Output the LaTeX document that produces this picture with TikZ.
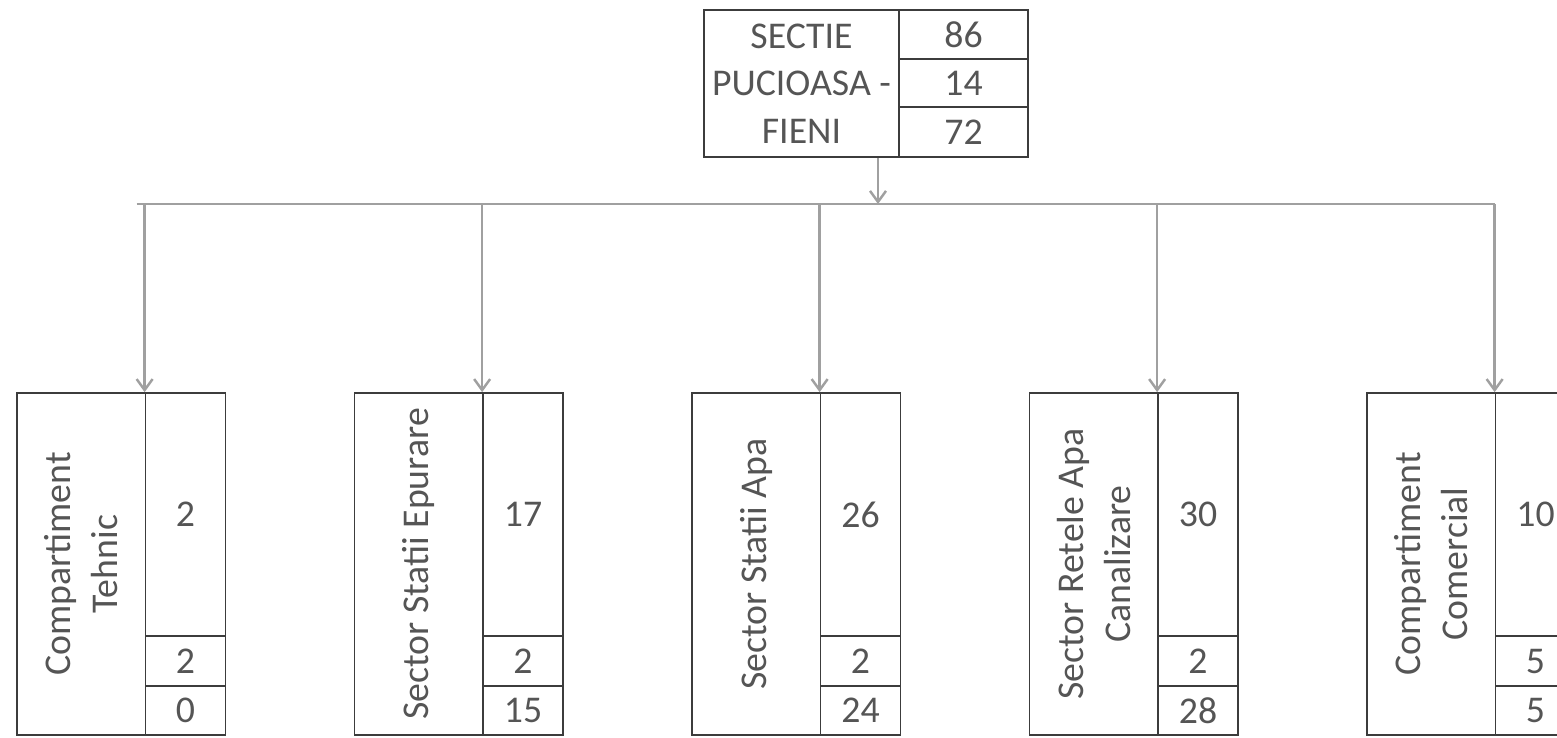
\documentclass[tikz,border=0pt]{standalone}
\usepackage{fontspec}
\setmainfont{Carlito}
\usetikzlibrary{arrows.meta,calc}
\definecolor{SecText}{RGB}{85,85,85}
\definecolor{SecLine}{RGB}{60,60,60}
\definecolor{SecArrow}{RGB}{160,160,160}

\begin{document}
\begin{tikzpicture}[x=0.02cm,y=-0.02cm,>={Straight Barb[length=2.2mm,width=3.2mm]}]
        \tikzset{cell/.style={draw=SecLine,line width=1pt,inner sep=0pt,text=SecText,align=center,font=\fontsize{21.5}{27}\selectfont},namebox/.style={cell,rotate=90,minimum width=6.84cm,minimum height=2.57cm},numcell/.style={cell,minimum width=1.6cm},link/.style={draw=SecArrow,line width=1.4pt}}
        \useasboundingbox (0,0) rectangle (1557,737);
        % sectia
        \node[cell,minimum width=3.9cm,minimum height=2.94cm] (sectie) at (801.5,83.5) {SECTIE\\PUCIOASA -\\FIENI};
        \node[cell,minimum width=2.58cm,minimum height=0.98cm] (n86) at (963.5,34.5) {86};
        \node[cell,minimum width=2.58cm,minimum height=0.96cm] (n14) at (963.5,83) {14};
        \node[cell,minimum width=2.58cm,minimum height=1.0cm] (n72) at (963.5,132) {72};
        % compartimente si sectoare
        \foreach \i/\txt/\tot/\a/\b in {0/{Compartiment\\Tehnic}/2/2/0,1/{Sector Statii Epurare}/17/2/15,2/{Sector Statii Apa}/26/2/24,3/{Sector Retele Apa\\Canalizare}/30/2/28,4/{Compartiment\\Comercial}/10/5/5}{
          \node[namebox] (name\i) at (17+337.5*\i+64.25,564) {\txt};
          \node[numcell,minimum height=4.86cm] (tot\i) at (17+337.5*\i+168.5,514.5) {\tot};
          \node[numcell,minimum height=1.0cm] (a\i) at (17+337.5*\i+168.5,661) {\a};
          \node[numcell,minimum height=0.98cm] (b\i) at (17+337.5*\i+168.5,710.5) {\b};
        }
        \coordinate (split) at (878,204);
        \draw[link,->] (split |- n72.south) -- (split);
        \draw[link] ($(tot0.north west |- split)+(-8,0)$) -- (tot4.north west |- split);
        \foreach \i in {0,...,4}{\draw[link,->] (tot\i.north west |- split) -- (tot\i.north west);}
      \end{tikzpicture}
\end{document}
